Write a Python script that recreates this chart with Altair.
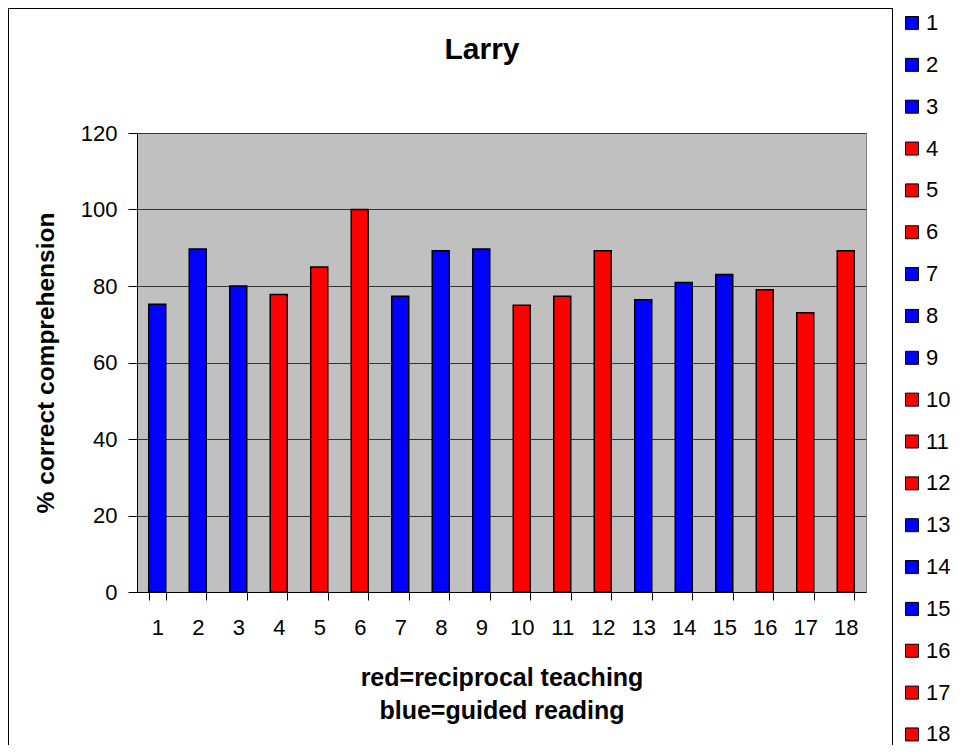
import altair as alt
import pandas as pd

# ---- data ----
sessions = [str(i) for i in range(1, 19)]
scores = [75.2, 89.7, 80, 77.8, 85, 100, 77.3, 89.2, 89.7,
          75, 77.3, 89.2, 76.4, 80.9, 83, 79, 73, 89.2]
methods = ["guided", "guided", "guided", "reciprocal", "reciprocal", "reciprocal",
           "guided", "guided", "guided", "reciprocal", "reciprocal", "reciprocal",
           "guided", "guided", "guided", "reciprocal", "reciprocal", "reciprocal"]
method_colors = {"guided": "#0000FF", "reciprocal": "#FF0000"}
y_ticks = [0, 20, 40, 60, 80, 100, 120]
title_text = ["Larry"]
x_title = ["red=reciprocal teaching", "blue=guided reading"]
y_title = "% correct comprehension"

FONT = "Liberation Sans"

df = pd.DataFrame({"session": sessions, "score": scores, "method": methods})
bar_colors = [method_colors[m] for m in methods]

bars = alt.Chart(df).mark_bar(stroke="black", strokeWidth=1.5).encode(
    x=alt.X(
        "session:N",
        sort=sessions,
        scale=alt.Scale(paddingInner=0.58, paddingOuter=0.29),
        axis=alt.Axis(
            title=x_title,
            titleFont=FONT, titleFontSize=25, titleFontWeight="bold", titleColor="black",
            titleLineHeight=33, titleBaseline="top", titleY=73,
            labelAngle=0, labelFont=FONT, labelFontSize=22, labelColor="black",
            labelPadding=17,
            tickBand="extent", tickSize=8, tickColor="black", tickWidth=1,
            domainColor="black", domainWidth=1, grid=False,
        ),
    ),
    y=alt.Y(
        "score:Q",
        scale=alt.Scale(domain=[0, 120], nice=False),
        axis=alt.Axis(
            title=y_title, values=y_ticks,
            titleFont=FONT, titleFontSize=24.5, titleFontWeight="bold", titleColor="black",
            titleAngle=270, titleX=-84, titleY=229.5, titleAlign="center",
            titleBaseline="alphabetic",
            labelFont=FONT, labelFontSize=22, labelColor="black", labelPadding=11,
            tickSize=9, tickColor="black", domainColor="black",
            grid=True, gridColor="#333333", gridWidth=1, gridOpacity=1,
        ),
    ),
    color=alt.Color(
        "session:N",
        sort=sessions,
        scale=alt.Scale(domain=sessions, range=bar_colors),
        legend=alt.Legend(
            title=None, orient="none", legendX=755, legendY=-130,
            direction="vertical", symbolType="square", symbolSize=169,
            symbolStrokeColor="black", symbolStrokeWidth=1, symbolOpacity=1,
            labelFont=FONT, labelFontSize=22, labelColor="black", labelOffset=3,
            rowPadding=19.85, padding=9, strokeColor="black", fillColor="white",
        ),
    ),
)

frame = alt.Chart(pd.DataFrame({"k": [0]})).mark_rect(
    fill="transparent", stroke="black", strokeWidth=1
).encode(
    x=alt.value(-128.5), x2=alt.value(756.5),
    y=alt.value(-124.5), y2=alt.value(619.5),
)

title = alt.Chart(pd.DataFrame({"t": title_text})).mark_text(
    font=FONT, fontSize=30, fontWeight="bold", color="black",
    align="center", baseline="alphabetic",
).encode(
    text="t:N", x=alt.value(345), y=alt.value(-74),
)

chart = alt.layer(frame, title, bars).properties(
    width=729,
    height=459,
    autosize=alt.AutoSizeParams(type="none"),
    padding={"left": 129, "top": 125, "right": 89, "bottom": 153},
    background="white",
).configure_view(
    fill="#C0C0C0", stroke="#808080", strokeWidth=1
)

chart.save("out.html", embed_options={"renderer": "svg", "actions": False})
